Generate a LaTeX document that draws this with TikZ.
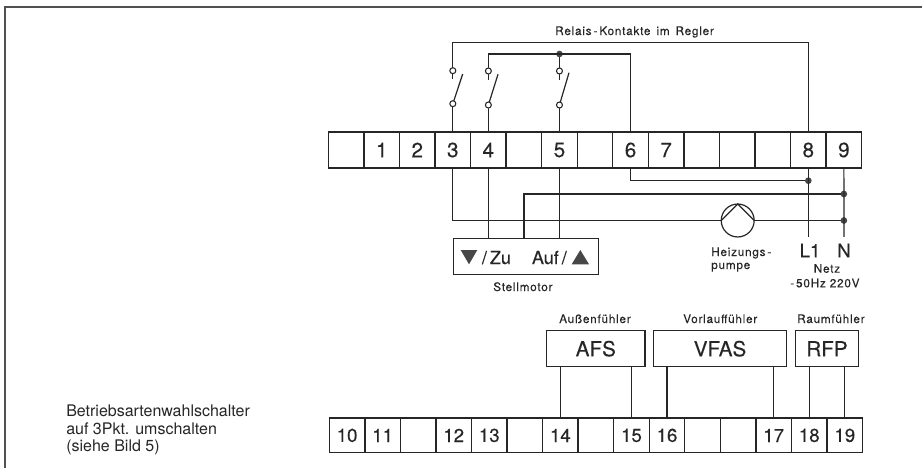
\documentclass[tikz,border=0pt]{standalone}
\usepackage{fontspec}
\setmainfont[FakeBold=0.25]{TeX Gyre Heros}
\newfontfamily\notefont[LetterSpace=6.5,FakeBold=0.1]{TeX Gyre Heros}
\newfontfamily\plainfont{TeX Gyre Heros}
\usetikzlibrary{positioning}
\usetikzlibrary{calc}
\definecolor{ink}{HTML}{262626}
\tikzset{
  wire/.style={draw=ink, line width=0.9pt},
  terminal/.style={draw=ink, line width=1pt, minimum width=26.7pt, minimum height=27pt, inner sep=0pt, outer sep=0pt, text=ink, font=\fontsize{15.5}{16}\selectfont},
  lowterminal/.style={terminal, minimum height=26pt, font=\fontsize{14}{15}\selectfont},
  sensor/.style={draw=ink, line width=1pt, minimum height=27pt, inner sep=0pt, outer sep=0pt, text=ink, font=\fontsize{15.5}{16}\selectfont},
  contact/.style={circle, draw=ink, line width=0.8pt, fill=white, minimum size=4.5pt, inner sep=0pt, outer sep=0pt},
  junction/.style={circle, fill=ink!85, minimum size=5pt, inner sep=0pt, outer sep=0pt},
  note/.style={anchor=base west, inner sep=0pt, text=ink, font=\notefont\fontsize{8.8}{10}\selectfont},
  bigtext/.style={anchor=base west, inner sep=0pt, text=ink, font=\fontsize{13.5}{15}\selectfont},
  remark/.style={anchor=base west, inner sep=0pt, text=ink, font=\plainfont\fontsize{12}{13}\selectfont},
  mains/.style={anchor=base, inner ysep=5pt, inner xsep=0pt, text=ink, font=\fontsize{14}{15}\selectfont},
}
\begin{document}
\begin{tikzpicture}[x=0.75pt, y=-0.75pt]
  \useasboundingbox (0,0) rectangle (922,468);
  \def\d{35.55}

  %frame of the sheet
  \draw[ink!80, line width=0.9pt] (5,468) -- (5,7) -- (922,7);

  %upper terminals
  \def\dx{328.4}
  \foreach \i/\num/\name in {0//a0,1/1/t1,2/2/t2,3/3/t3,4/4/t4,5//a5,6/5/t5,7//a7,8/6/t6,9/7/t7,10//a10,11//a11,12//a12,13/8/t8,14/9/t9}{
    \node[terminal] (\name) at (\dx+\i*\d+\d/2, 150) {\num};
  }

  %lower terminals
  \def\dx{329.3}
  \foreach \i/\num/\name in {0/10/t10,1/11/t11,2//b2,3/12/t12,4/13/t13,5//b5,6/14/t14,7//b7,8/15/t15,9/16/t16,10//b10,11//b11,12/17/t17,13/18/t18,14/19/t19}{
    \node[lowterminal] (\name) at (\dx+\i*\d+\d/2, 435.4) {\num};
  }

  %relay contacts
  \foreach \name/\yup/\ylow/\tipx/\tipy in {t3/70.7/103.7/462.7/74,t4/71/105/498/74.3,t5/71/105/569/72.7}{
    \node[contact] (\name up) at (\name.north |- 0,\yup) {};
    \coordinate (\name tip) at (\tipx,\tipy);
    \coordinate (\name stub) at ($(\name up.south)+(0,5.5)$);
    \draw[wire] (\name up.south) -- (\name stub);
    \draw[wire] (\name.north) -- (\name.north |- 0,\ylow);
    \draw[wire] (\name.north |- 0,\ylow) -- (\name tip);
    \node[contact] (\name low) at (\name.north |- 0,\ylow) {};
  }
  \coordinate (bus1) at (0,42.7);
  \coordinate (bus2) at (0,54);
  \node[junction] (j5) at (t5.north |- bus2) {};
  \draw[wire] (t3up.north) |- (bus1 -| t8.north) -- (t8.north);
  \draw[wire] (t4up.north) |- (bus2 -| t6.north) -- (t6.north);
  \draw[wire] (j5) -- (t5up.north);
  \node[note] (relais) at (555,35) {Relais\,-\,Kontakte\, im\, Regler};

  %motor, pump and mains
  \node[draw=ink, line width=1pt, minimum width=108.7pt, minimum height=27.3pt, inner sep=0pt, outer sep=0pt] (motor) at (525.8,256.5) {};
  \node[circle, draw=ink, line width=0.9pt, minimum size=24.7pt, inner sep=0pt, outer sep=0pt] (pump) at (737.7,220.5) {};
  \draw[wire] (pump.west) -- (pump.north) -- (pump.east);
  \node[mains] (L1) at (810,257.3) {L1};
  \node[mains] (N) at (844,257.3) {N};
  \node[junction] (j8) at (t8.south |- 0,180.7) {};
  \node[junction] (j9a) at (t9.south |- 0,194) {};
  \node[junction] (j9b) at (t9.south |- pump.east) {};
  \coordinate (m3) at (524,238);
  \draw[wire] (t6.south) |- (j8);
  \draw[wire] (t8.south) -- (t8.south |- L1.north);
  \draw[wire] (t9.south) -- (N.north);
  \draw[wire] (t3.south) |- (pump.west);
  \draw[wire] (pump.east) -- (j9b);
  \draw[wire] (m3) |- (j9a);
  \draw[wire] (t4.south) -- (t4.south |- motor.north);
  \draw[wire] (t5.south) -- (t5.south |- motor.north);

  %motor arrows
  \fill[ink!85] (460.7,250) -- (477.3,250) -- (469,264.3) -- cycle;
  \fill[ink!85] (571.7,264.3) -- (589,264.3) -- (580.3,250) -- cycle;
  \node[bigtext] (zu) at (481.7,264) {/\,Zu};
  \node[bigtext] (auf) at (531.7,264) {Auf\,/};
  \node[note] (stell) at (493,291) {Stellmotor};
  \node[note] (heiz1) at (711,256) {Heizungs\,-};
  \node[note] (heiz2) at (711,269) {pumpe};
  \node[note, anchor=base] (netz) at (827,272.7) {Netz};
  \node[note] (hz) at (790,287.3) {-\,50Hz 220V};

  %sensors
  \node[sensor, minimum width=73.8pt] (afs) at (595.8,348.7) {AFS};
  \node[sensor, minimum width=100pt] (vfas) at (720,348.7) {VFAS};
  \node[sensor, minimum width=47pt] (rfp) at (827,348.7) {RFP};
  \foreach \name/\sens in {t14/afs,t15/afs,t16/vfas,t17/vfas,t18/rfp,t19/rfp}{
    \draw[wire] (\name.north) -- (\name.north |- \sens.south);
  }
  \node[note] (aussen) at (559,323) {Außenfühler};
  \node[note] (vor) at (683,323) {Vorlauffühler};
  \node[note] (raum) at (797,323) {Raumfühler};

  %switch remark
  \node[remark] (bw1) at (66,416) {Betriebsartenwahlschalter};
  \node[remark] (bw2) at (66,434) {auf 3Pkt. umschalten};
  \node[remark] (bw3) at (66,451) {(siehe Bild 5)};
\end{tikzpicture}
\end{document}
